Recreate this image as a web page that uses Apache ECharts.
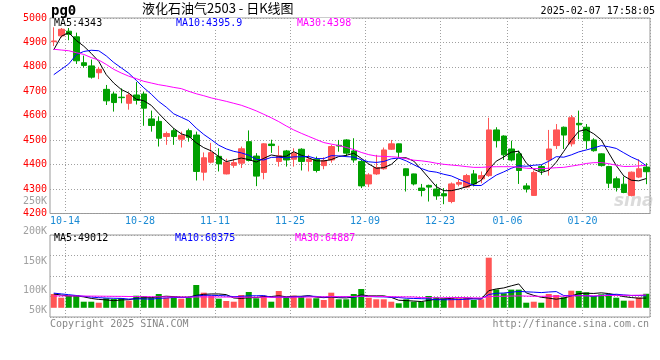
<!DOCTYPE html>
<html><head><meta charset="utf-8">
<script src="https://cdn.jsdelivr.net/npm/echarts@6/dist/echarts.min.js"></script>
<style>html,body{margin:0;padding:0;background:#fff}#c{width:660px;height:360px}</style>
</head><body><div id="c"></div>
<script>
const dates = ['10-10','10-11','10-14','10-15','10-16','10-17','10-18','10-21','10-22','10-23',
'10-24','10-25','10-28','10-29','10-30','10-31','11-01','11-04','11-05','11-06',
'11-07','11-08','11-11','11-12','11-13','11-14','11-15','11-18','11-19','11-20',
'11-21','11-22','11-25','11-26','11-27','11-28','11-29','12-02','12-03','12-04',
'12-05','12-06','12-09','12-10','12-11','12-12','12-13','12-16','12-17','12-18',
'12-19','12-20','12-23','12-24','12-25','12-26','12-27','12-30','12-31','01-02',
'01-03','01-06','01-07','01-08','01-09','01-10','01-13','01-14','01-15','01-16',
'01-17','01-20','01-21','01-22','01-23','01-24','01-27','02-05','02-06','02-07'];
const dateTicks = ['10-14','10-28','11-11','11-25','12-09','12-23','01-06','01-20'];

const opens = [4903,4927,4946,4923,4817,4804,4776,4708,4689,4676,
4651,4685,4689,4587,4577,4515,4539,4504,4539,4521,
4369,4410,4434,4362,4397,4406,4494,4435,4368,4484,
4413,4456,4422,4463,4413,4422,4396,4419,4479,4501,
4456,4413,4321,4362,4383,4463,4485,4383,4362,4304,
4315,4300,4281,4249,4320,4308,4362,4342,4355,4542,
4517,4464,4444,4313,4274,4392,4419,4478,4553,4485,
4569,4553,4501,4444,4392,4342,4320,4274,4349,4390];
const closes = [4906,4954,4933,4825,4806,4758,4790,4661,4654,4674,
4685,4663,4631,4560,4508,4527,4515,4520,4512,4372,
4428,4449,4403,4410,4408,4465,4417,4353,4485,4478,
4436,4419,4447,4413,4422,4376,4417,4474,4476,4447,
4419,4313,4358,4388,4460,4485,4451,4355,4321,4294,
4308,4272,4272,4321,4327,4355,4321,4355,4542,4498,
4440,4419,4376,4300,4368,4376,4464,4542,4521,4592,
4563,4498,4457,4396,4324,4306,4286,4369,4383,4371];
const lows = [4885,4920,4909,4812,4797,4752,4750,4644,4617,4651,
4625,4646,4559,4535,4474,4481,4481,4470,4494,4335,
4335,4405,4372,4360,4387,4386,4413,4312,4340,4448,
4392,4392,4392,4376,4372,4368,4381,4408,4453,4433,
4408,4304,4308,4358,4379,4460,4430,4290,4315,4270,
4249,4256,4238,4242,4311,4304,4311,4324,4350,4470,
4419,4413,4321,4286,4272,4358,4355,4464,4464,4474,
4504,4464,4453,4392,4304,4290,4283,4270,4345,4320];
const highs = [4962,4975,4963,4940,4846,4830,4800,4726,4698,4712,
4694,4738,4698,4621,4597,4535,4549,4535,4547,4535,
4450,4489,4467,4424,4423,4474,4540,4447,4488,4502,
4477,4460,4467,4467,4440,4433,4430,4481,4501,4504,
4508,4419,4365,4440,4470,4501,4486,4384,4363,4321,
4318,4321,4304,4327,4340,4362,4378,4372,4592,4553,
4520,4498,4457,4324,4376,4399,4542,4566,4556,4603,
4621,4566,4508,4446,4395,4351,4351,4372,4422,4406];

const ma5 = [4870,4925,4940,4908,4884.8,4855.2,4822.4,4768,4733.8,4707.4,
4692.8,4667.4,4661.4,4642.6,4609.4,4577.8,4548.2,4526,4516.4,4489.2,
4469.4,4456.2,4432.8,4412.4,4419.6,4427,4420.6,4410.6,4425.6,4439.6,
4433.8,4434.2,4453,4438.6,4427.4,4415.4,4415,4420.4,4433,4438,
4446.6,4425.8,4402.6,4385,4387.6,4400.8,4428.4,4427.8,4414.4,4381.2,
4345.8,4310,4293.4,4293.4,4300,4309.4,4319.2,4335.8,4380,4414.2,
4431.2,4450.8,4455,4406.6,4380.6,4367.8,4376.8,4410,4454.2,4499,
4536.4,4543.2,4526.2,4501.2,4447.6,4396.2,4353.8,4336.2,4333.6,4343];
const ma10 = [4768,4790,4812,4850,4863,4868,4866,4845,4818,4796.1,
4774,4744.9,4714.7,4688.2,4658.4,4635.3,4607.8,4593.7,4579.5,4549.3,
4523.6,4502.2,4479.4,4464.4,4454.4,4448.2,4438.4,4421.7,4419,4429.6,
4430.4,4427.4,4431.8,4432.1,4433.5,4424.6,4424.6,4436.7,4435.8,4432.7,
4431,4420.4,4411.5,4409,4412.8,4423.7,4427.1,4415.2,4399.7,4384.4,
4373.3,4369.2,4360.6,4353.9,4340.6,4327.6,4314.6,4314.6,4336.7,4357.1,
4370.3,4385,4395.4,4393.3,4397.4,4399.5,4413.8,4432.5,4430.4,4439.8,
4452.1,4460,4468.1,4477.7,4473.3,4466.3,4448.5,4431.2,4417.4,4395.3];
const ma30 = [4872,4869,4866,4858,4851,4838,4828,4810,4790,4775,
4762,4752,4741,4734,4727,4722,4716,4711,4700,4690,
4682,4673,4666,4659,4651,4643,4632,4620,4606,4591.7,
4576,4558.2,4542,4528.2,4515.4,4502.7,4490.3,4484,4478.1,4470.5,
4461.7,4450,4440.9,4435.2,4433.6,4432.2,4430,4424.5,4418.2,4415.6,
4411.6,4405.7,4401.3,4398.3,4395.6,4392,4388.8,4388.8,4390.7,4391.4,
4391.5,4391.5,4389.2,4385.4,4383.6,4383.6,4385.2,4387.4,4388.9,4393.8,
4398.6,4404.7,4408,4408.3,4403.8,4397.8,4392.4,4392.8,4394.8,4397.4];

const volumes = [69600,50900,59500,64500,30700,30700,25700,47900,44400,49400,
35800,61000,59500,50900,69600,50900,50900,45900,50900,114900,
76100,61000,45900,34300,30700,64500,79600,47900,61000,30700,
84700,52900,61000,59500,47900,47900,39300,76100,42800,42800,
69600,94800,50900,42800,42800,30700,22700,42800,30700,30700,
59500,52900,47900,47900,47900,47900,39300,42800,252500,92700,
73100,91700,91500,25700,30700,25700,69600,64500,52900,86200,
85000,78100,59500,68000,68000,50900,35800,35800,51900,70700];
const volMa5 = [70000,64000,60000,60000,55040,47260,42220,39900,35880,39620,
40640,47700,50020,51320,55360,58380,56360,53640,53640,62700,
67740,69760,69760,66440,49600,47280,51000,51400,56740,56740,
60780,55440,58060,57760,61200,53840,51120,54140,50800,49780,
54120,65220,60180,60180,60180,52400,37980,36360,33940,31520,
37280,43320,44340,47780,51220,48900,46180,45160,86080,95040,
100080,110560,120300,74940,62540,53060,48640,43240,48680,59780,
71640,73340,72340,75360,71720,64900,56440,51700,48480,49020];
const volMa10 = [74000,70000,66000,62000,58000,54000,51000,49000,48000,47330,
43950,44960,44960,43600,47490,49510,52030,51830,52480,59030,
63060,63060,61700,60040,56150,57510,60380,60580,61590,53170,
54030,53220,54730,57250,58970,57310,53280,56100,54280,55490,
53980,58170,57160,55490,54980,53260,51600,48270,47060,45850,
44840,40650,40350,40860,41370,43090,44750,44750,66930,73130,
74490,78370,82730,80510,78790,76570,79600,81770,61810,61160,
62350,60990,57790,62020,65750,68270,64890,62020,61920,60370];
const volMa30 = [60000,60000,59800,59500,59200,59000,58600,58200,57800,57500,
57000,56600,56200,55800,55500,55000,54700,54400,54000,54500,
54800,54500,54200,54000,53700,53500,53500,53300,53200,53180,
53680,53750,53800,53630,54200,54780,55230,56170,56120,55900,
57020,58150,57860,57590,56700,56030,55090,54980,54310,51500,
50950,50680,50750,51200,51770,51220,49880,49710,56090,58160,
57770,59060,60080,58950,58380,57640,58650,58260,58600,60050,
60560,60000,60290,61130,61970,62640,63080,62850,63550,64890];

const volTickLabels = ['250K','200K','150K','100K','50K'];
const priceMaLabels = ['MA5:4343','MA10:4395.9','MA30:4398'];
const volMaLabels = ['MA5:49012','MA10:60375','MA30:64887'];
const titleText = '液化石油气2503 - 日K线图';
const stampText = '2025-02-07 17:58:05';

// ---- layout / style (not data) ----
const UP = '#ff5555', DOWN = '#00a000';
const MA_COLORS = ['#000000', '#0000ff', '#ff00ff'];
const MONO = '"DejaVu Sans Mono", monospace';
const volLabelY = [201, 231, 261, 290, 310];
const maLabelX = [54, 176, 297];
const volMaLabelX = [54, 175, 295];

const isTick = (i, v) => dateTicks.indexOf(v) >= 0;
const dotted = { color: '#a0a0a0', width: 1, type: [1, 2] };

const candleData = opens.map((o, i) => [o, closes[i], lows[i], highs[i]]);
const volData = volumes.map((v, i) => ({ value: v, itemStyle: { color: closes[i] >= opens[i] ? UP : DOWN } }));

const graphics = [];
graphics.push({ type: 'text', left: 51, top: 4, style: { text: 'pg0', font: 'bold 14px ' + MONO, fill: '#000' } });
graphics.push({ type: 'text', left: 142, top: 2, style: { text: titleText, font: '13px "Noto Sans CJK SC", sans-serif', fill: '#000' } });
graphics.push({ type: 'text', right: 5, top: 6, style: { text: stampText, font: '10px ' + MONO, fill: '#000' } });
priceMaLabels.forEach((t, i) => graphics.push({ type: 'text', left: maLabelX[i], top: 18, z: 10,
  style: { text: t, font: '10px ' + MONO, fill: MA_COLORS[i], backgroundColor: '#fff' } }));
volMaLabels.forEach((t, i) => graphics.push({ type: 'text', left: volMaLabelX[i], top: 233, z: 10,
  style: { text: t, font: '10px ' + MONO, fill: MA_COLORS[i] } }));
volTickLabels.forEach((t, i) => graphics.push({ type: 'text', x: 47, y: volLabelY[i],
  style: { text: t, font: '10px ' + MONO, fill: '#a0a0a0', textAlign: 'right', textVerticalAlign: 'middle' } }));
graphics.push({ type: 'text', left: 50, top: 319, style: { text: 'Copyright 2025 SINA.COM', font: '10px ' + MONO, fill: '#888' } });
graphics.push({ type: 'text', right: 11, top: 319, style: { text: 'http://finance.sina.com.cn', font: '10px ' + MONO, fill: '#888' } });
graphics.push({ type: 'text', left: 614, top: 193, z: 1, style: { text: 'sina', font: 'italic bold 17px "DejaVu Sans", sans-serif', fill: 'rgba(190,190,190,0.55)' } });

const maLine = (name, data, color, xi, yi) => ({
  name, type: 'line', data, xAxisIndex: xi, yAxisIndex: yi, showSymbol: false, symbol: 'none',
  lineStyle: { color, width: 1 }, z: 5, silent: true
});

const chart = echarts.init(document.getElementById('c'), null, { renderer: 'canvas' });
chart.setOption({
  animation: false,
  backgroundColor: '#fff',
  grid: [
    { left: 50, right: 10, top: 18, height: 195.5, show: true, borderColor: '#999', borderWidth: 1, backgroundColor: 'transparent' },
    { left: 50, right: 10, top: 235, height: 82, show: true, borderColor: '#999', borderWidth: 1, backgroundColor: 'transparent' }
  ],
  xAxis: [
    { type: 'category', gridIndex: 0, data: dates, boundaryGap: true,
      axisLine: { show: false }, axisTick: { show: false },
      axisLabel: { interval: isTick, color: '#1a8ad4', fontSize: 10, fontFamily: MONO, margin: 3, padding: [0, 7.5, 0, 0] },
      splitLine: { show: true, interval: isTick, lineStyle: dotted } },
    { type: 'category', gridIndex: 1, data: dates, boundaryGap: true,
      axisLine: { show: false }, axisTick: { show: false }, axisLabel: { show: false },
      splitLine: { show: true, interval: isTick, lineStyle: dotted } }
  ],
  yAxis: [
    { type: 'value', gridIndex: 0, min: 4200, max: 5000, interval: 100, scale: true,
      axisLine: { show: false }, axisTick: { show: false },
      axisLabel: { color: '#ff0000', fontSize: 10, fontFamily: MONO, margin: 3, formatter: v => String(v) },
      splitLine: { show: true, lineStyle: dotted } },
    { type: 'value', gridIndex: 1, min: -46400, max: 366900,
      axisLine: { show: false }, axisTick: { show: false }, axisLabel: { show: false }, splitLine: { show: false } },
    { type: 'value', gridIndex: 1, min: 0, max: 4, interval: 1,
      axisLine: { show: false }, axisTick: { show: false }, axisLabel: { show: false },
      splitLine: { show: true, lineStyle: dotted } }
  ],
  graphic: graphics,
  series: [
    { type: 'candlestick', xAxisIndex: 0, yAxisIndex: 0, data: candleData, barWidth: 6,
      itemStyle: { color: UP, color0: DOWN, borderColor: UP, borderColor0: DOWN, borderWidth: 1 } },
    maLine('MA5', ma5, MA_COLORS[0], 0, 0),
    maLine('MA10', ma10, MA_COLORS[1], 0, 0),
    maLine('MA30', ma30, MA_COLORS[2], 0, 0),
    { type: 'bar', xAxisIndex: 1, yAxisIndex: 1, data: volData, barWidth: 6 },
    maLine('VMA5', volMa5, MA_COLORS[0], 1, 1),
    maLine('VMA10', volMa10, MA_COLORS[1], 1, 1),
    maLine('VMA30', volMa30, MA_COLORS[2], 1, 1)
  ]
});
</script></body></html>
